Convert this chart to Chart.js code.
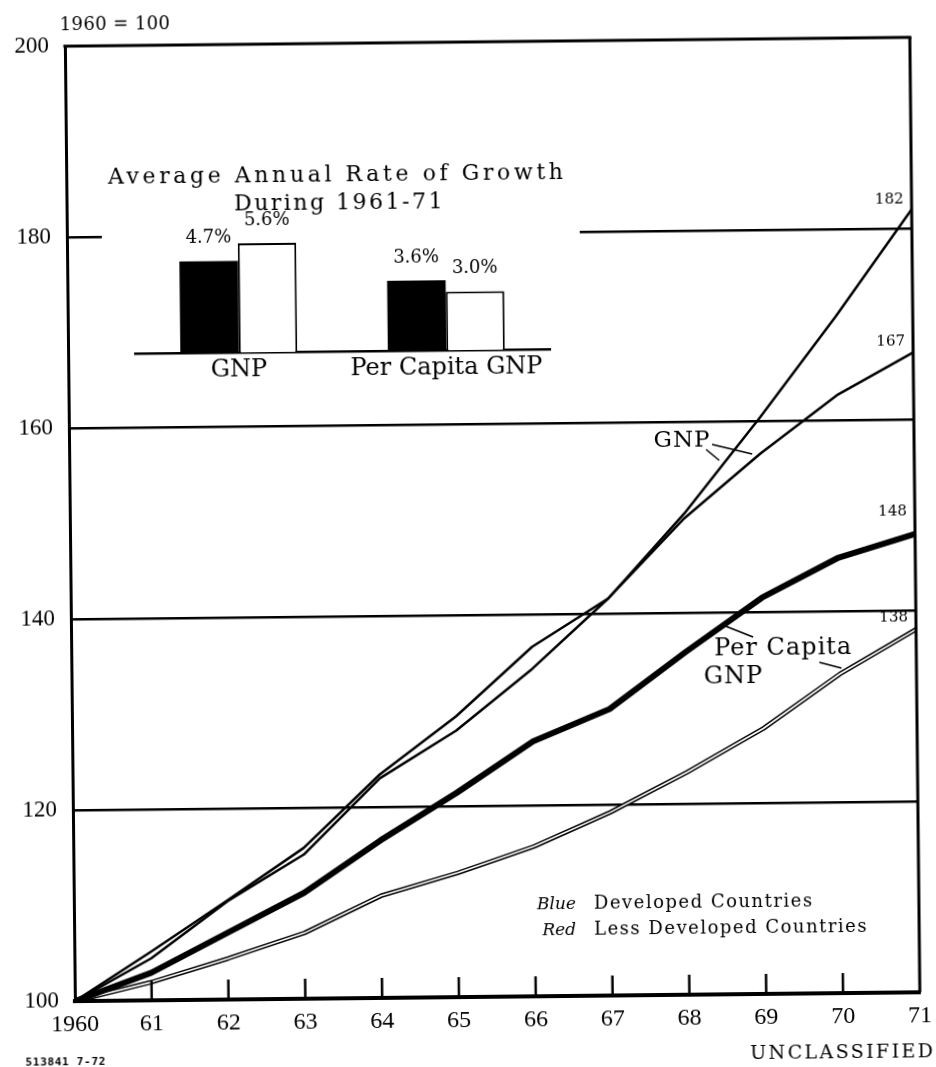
<!DOCTYPE html>
<html>
<head>
<meta charset="utf-8">
<script src="https://cdn.jsdelivr.net/npm/chart.js@4.4.1/dist/chart.umd.min.js"></script>
<style>
  html, body { margin: 0; padding: 0; background: #fff; }
  #wrap { position: relative; width: 936px; height: 1067px; transform: rotate(-0.6deg); transform-origin: 468px 533px; }
  #mainChart { position: absolute; left: 0; top: 0; }
  #growthChart { position: absolute; left: 105px; top: 150px; background: #fff; }
</style>
</head>
<body>
<div id="wrap">
  <canvas id="mainChart" width="936" height="1067"></canvas>
  <canvas id="growthChart" width="478" height="240"></canvas>
</div>
<script>
// index 1960 = 100
const years = ['1960', '61', '62', '63', '64', '65', '66', '67', '68', '69', '70', '71'];
const gnpLess = [100, 104.4, 110.3, 115.1, 123.0, 127.9, 134.3, 141.6, 150.4, 160.4, 170.9, 182];
const gnpDeveloped = [100, 105.1, 110.4, 115.8, 123.4, 129.4, 136.6, 141.6, 149.9, 156.6, 162.6, 167];
const perCapitaDeveloped = [100, 102.9, 107.0, 111.1, 116.5, 121.4, 126.7, 130.0, 135.9, 141.5, 145.6, 148];
const perCapitaLess = [100, 101.9, 104.3, 106.9, 110.7, 113.0, 115.7, 119.2, 123.3, 127.8, 133.4, 138];
const yTicks = [100, 120, 140, 160, 180, 200];

// inset: average annual rate of growth 1961-71 (%)
const growthGroups = ['GNP', 'Per Capita GNP'];
const growthDeveloped = [4.7, 3.6];
const growthLess = [5.6, 3.0];

const SERIF = '"DejaVu Serif", serif';
const DIGITS = '"Liberation Serif", serif';

function txt(ctx, s, x, y, font, align, spacing) {
    ctx.save();
    ctx.font = font;
    ctx.textAlign = align || 'left';
    ctx.textBaseline = 'middle';
    ctx.letterSpacing = (spacing || 0) + 'px';
    ctx.fillStyle = '#000';
    ctx.fillText(s, x, y);
    ctx.restore();
}

function seg(ctx, x1, y1, x2, y2, w) {
    ctx.save();
    ctx.strokeStyle = '#000';
    ctx.lineWidth = w;
    ctx.beginPath();
    ctx.moveTo(x1, y1);
    ctx.lineTo(x2, y2);
    ctx.stroke();
    ctx.restore();
}

const frameAndNotes = {
    id: 'frameAndNotes',
    afterDraw(chart) {
        const ctx = chart.ctx;
        const a = chart.chartArea;
        const xs = chart.scales.x;
        const ys = chart.scales.y;

        // top and right frame
        seg(ctx, a.left - 1.5, a.top, a.right + 1.5, a.top, 3);
        seg(ctx, a.right, a.top, a.right, a.bottom, 3);

        // year ticks pointing up from the base line
        for (let i = 1; i < years.length - 1; i++) {
            const x = xs.getPixelForValue(i);
            seg(ctx, x, a.bottom, x, a.bottom - 20, 2.5);
        }

        // end values
        const last = years.length - 1;
        txt(ctx, String(gnpLess[last]), a.right - 8, ys.getPixelForValue(gnpLess[last]) - 10, '15px ' + SERIF, 'right');
        txt(ctx, String(gnpDeveloped[last]), a.right - 8, ys.getPixelForValue(gnpDeveloped[last]) - 11, '15px ' + SERIF, 'right');
        txt(ctx, String(perCapitaDeveloped[last]), a.right - 8, ys.getPixelForValue(perCapitaDeveloped[last]) - 22, '15px ' + SERIF, 'right');
        txt(ctx, String(perCapitaLess[last]), a.right - 8, ys.getPixelForValue(perCapitaLess[last]) - 12, '15px ' + SERIF, 'right');

        // series notes with leaders
        txt(ctx, 'GNP', 683, 443, '23px ' + SERIF, 'center', 1);
        seg(ctx, 713, 447, 753, 457, 1.5);
        seg(ctx, 707, 452, 720, 463, 1.5);

        txt(ctx, 'Per Capita', 782, 652, '24px ' + SERIF, 'center', 1);
        txt(ctx, 'GNP', 732, 680, '24px ' + SERIF, 'center', 1);
        seg(ctx, 720, 627, 752, 640, 1.5);
        seg(ctx, 818, 666, 840, 672, 1.5);

        // colour key
        txt(ctx, 'Blue', 572, 906, 'italic 17px ' + SERIF, 'right');
        txt(ctx, 'Developed Countries', 590, 905, '18px ' + SERIF, 'left', 1.5);
        txt(ctx, 'Red', 572, 932, 'italic 17px ' + SERIF, 'right');
        txt(ctx, 'Less Developed Countries', 590, 931, '18px ' + SERIF, 'left', 1.5);

        // header and footer
        txt(ctx, '1960 = 100', 65, 21, '18px ' + SERIF, 'left', 0.4);
        txt(ctx, '513841 7-72', 20, 1058, 'bold 11px "DejaVu Sans Mono", monospace', 'left', 0.7);
        txt(ctx, 'UNCLASSIFIED', 930, 1057, '19px ' + SERIF, 'right', 2.4);
    }
};

new Chart(document.getElementById('mainChart'), {
    type: 'line',
    data: {
        labels: years,
        datasets: [
            { label: 'GNP, less developed', data: gnpLess, borderColor: '#000', borderWidth: 2.5 },
            { label: 'GNP, developed', data: gnpDeveloped, borderColor: '#000', borderWidth: 2.5 },
            { label: 'Per capita GNP, developed', data: perCapitaDeveloped, borderColor: '#000', borderWidth: 6 },
            { label: 'Per capita GNP, less developed (inner)', data: perCapitaLess, borderColor: '#fff', borderWidth: 1.6 },
            { label: 'Per capita GNP, less developed', data: perCapitaLess, borderColor: '#000', borderWidth: 4.6 }
        ]
    },
    options: {
        responsive: false,
        animation: false,
        devicePixelRatio: 1,
        elements: {
            point: { radius: 0 },
            line: { tension: 0, borderJoinStyle: 'round', fill: false }
        },
        layout: { padding: { left: 0, right: 20, top: 42, bottom: 20 } },
        plugins: {
            legend: { display: false },
            tooltip: { enabled: false },
            title: { display: false }
        },
        scales: {
            x: {
                type: 'category',
                offset: false,
                grid: { display: false, drawTicks: false },
                border: { display: true, color: '#000', width: 4 },
                ticks: {
                    color: '#000',
                    font: { family: DIGITS, size: 24 },
                    padding: 9,
                    maxRotation: 0,
                    autoSkip: false
                },
                afterFit(scale) { scale.height = 50; }
            },
            y: {
                min: 100,
                max: 200,
                afterBuildTicks(scale) { scale.ticks = yTicks.map(v => ({ value: v })); },
                grid: {
                    drawTicks: false,
                    lineWidth: 2.5,
                    color: c => (c.tick && c.tick.value > 100 && c.tick.value < 200) ? '#000' : 'rgba(0,0,0,0)'
                },
                border: { display: true, color: '#000', width: 3 },
                ticks: {
                    color: '#000',
                    font: { family: DIGITS, size: 23 },
                    padding: 16
                },
                afterFit(scale) { scale.width = 70; }
            }
        }
    },
    plugins: [frameAndNotes]
});

const growthNotes = {
    id: 'growthNotes',
    afterDraw(chart) {
        const ctx = chart.ctx;
        // titles
        txt(ctx, 'Average Annual Rate of Growth', 236, 24, '22px ' + SERIF, 'center', 3.6);
        txt(ctx, 'During 1961-71', 238, 52, '22px ' + SERIF, 'center', 2.5);
        // value labels above bars
        chart.data.datasets.forEach((ds, di) => {
            chart.getDatasetMeta(di).data.forEach((bar, i) => {
                txt(ctx, ds.data[i].toFixed(1) + '%', bar.x, bar.y - 23, '18px ' + SERIF, 'center');
            });
        });
    }
};

new Chart(document.getElementById('growthChart'), {
    type: 'bar',
    data: {
        labels: growthGroups,
        datasets: [
            { label: 'Developed', data: growthDeveloped, backgroundColor: '#000', borderWidth: 0 },
            { label: 'Less developed', data: growthLess, backgroundColor: '#fff', borderColor: '#000', borderWidth: 2 }
        ]
    },
    options: {
        responsive: false,
        animation: false,
        devicePixelRatio: 1,
        layout: { padding: { left: 32, right: 31, top: 54, bottom: 0 } },
        plugins: {
            legend: { display: false },
            tooltip: { enabled: false }
        },
        datasets: {
            bar: { categoryPercentage: 0.564, barPercentage: 1.0 }
        },
        scales: {
            x: {
                grid: { display: false, drawTicks: false },
                border: { display: true, color: '#000', width: 2.5 },
                ticks: {
                    color: '#000',
                    font: { family: SERIF, size: 24 },
                    padding: 3
                },
                afterFit(scale) { scale.height = 40; }
            },
            y: {
                display: false,
                min: 0,
                max: 7.5
            }
        }
    },
    plugins: [growthNotes]
});
</script>
</body>
</html>
